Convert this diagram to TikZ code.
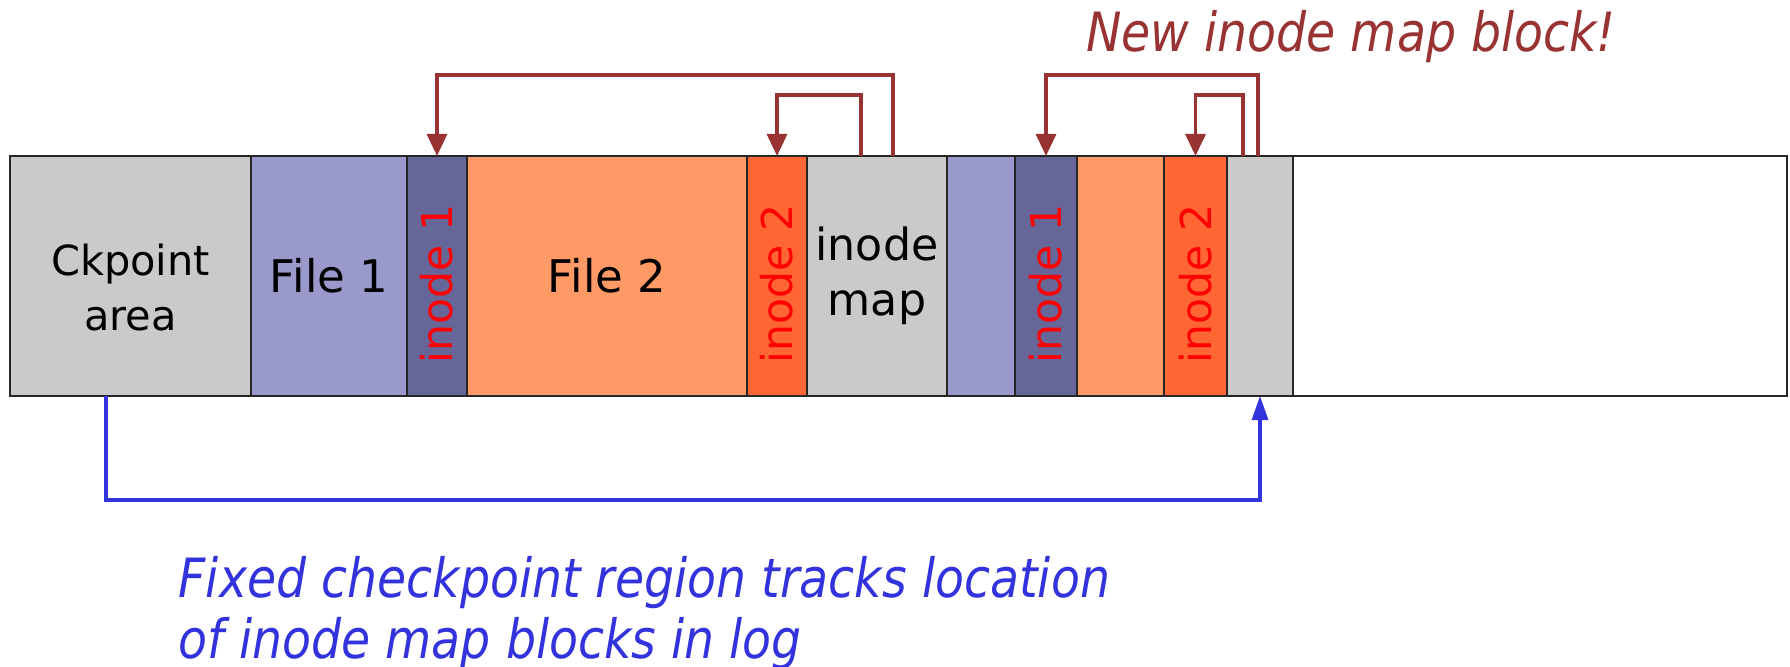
\documentclass[tikz,border=0pt]{standalone}
\usepackage{fontspec}
\usepackage{graphicx}
\setmainfont{DejaVu Sans}
\newfontfamily\notefont[FakeStretch=0.875]{DejaVu Sans}
\usetikzlibrary{arrows.meta,positioning}
\definecolor{ckgray}{HTML}{CACACA}
\definecolor{filelav}{HTML}{9999CC}
\definecolor{inodepur}{HTML}{666699}
\definecolor{fileorg}{HTML}{FF9966}
\definecolor{inodeorg}{HTML}{FF6633}
\definecolor{ptrred}{HTML}{993333}
\definecolor{trackblue}{HTML}{3333DD}
% rotated inode label, pushed a little down
\newcommand{\inolabel}[1]{\rotatebox{90}{#1\hspace*{0.16cm}}}

\begin{document}
\begin{tikzpicture}[x=1cm,y=1cm]
\tikzset{
  cell/.style={draw=black!85,line width=0.7pt,minimum height=2.40cm,inner sep=0pt,outer sep=0pt,align=center,font=\fontsize{12.6}{15.5}\selectfont},
  inocell/.style={cell,text=red,font=\fontsize{12.1}{14}\selectfont},
  ptr/.style={-{Triangle[length=2.2mm,width=2mm]},draw=ptrred,line width=0.9pt},
  track/.style={-{Triangle[length=2.4mm,width=1.6mm]},draw=trackblue,line width=0.9pt},
  note/.style={font=\notefont\itshape\fontsize{15.4}{17.3}\selectfont,align=left,inner sep=0pt}
}
\useasboundingbox (0,0) rectangle (17.90,-6.67);
\node[cell,fill=ckgray,minimum width=2.41cm,font=\fontsize{11.8}{15.6}\selectfont] (c_ckpt) at (1.305,-2.76) {\rule{0pt}{15.5pt}Ckpoint\\area};
\node[cell,fill=filelav,minimum width=1.56cm,font=\fontsize{12.8}{16}\selectfont] (c_file1) at (3.29,-2.76) {File 1};
\node[inocell,fill=inodepur,minimum width=0.60cm] (c_ino1) at (4.37,-2.76) {\inolabel{inode 1}};
\node[cell,fill=fileorg,minimum width=2.80cm,font=\fontsize{12.8}{16}\selectfont] (c_file2) at (6.07,-2.76) {File 2};
\node[inocell,fill=inodeorg,minimum width=0.60cm] (c_ino2) at (7.77,-2.76) {\inolabel{inode 2}};
\node[cell,fill=ckgray,minimum width=1.40cm] (c_imap) at (8.77,-2.76) {inode\\map};
\node[cell,fill=filelav,minimum width=0.68cm] (c_file1b) at (9.81,-2.76) {};
\node[inocell,fill=inodepur,minimum width=0.62cm] (c_ino1b) at (10.46,-2.76) {\inolabel{inode 1}};
\node[cell,fill=fileorg,minimum width=0.87cm] (c_file2b) at (11.205,-2.76) {};
\node[inocell,fill=inodeorg,minimum width=0.63cm] (c_ino2b) at (11.955,-2.76) {\inolabel{inode 2}};
\node[cell,fill=ckgray,minimum width=0.66cm] (c_imapb) at (12.60,-2.76) {};
\node[cell,fill=white,minimum width=4.94cm] (c_free) at (15.40,-2.76) {};
% old inode map points back to its inodes
\draw[ptr] ([xshift=1.6mm]c_imap.north) -- ++(0,0.81) -| (c_ino1.north);
\draw[ptr] ([xshift=-1.6mm]c_imap.north) -- ++(0,0.61) -| (c_ino2.north);
% new inode map block
\draw[ptr] ([xshift=-0.2mm]c_imapb.north) -- ++(0,0.81) -| (c_ino1b.north);
\draw[ptr] ([xshift=-1.7mm]c_imapb.north) -- ++(0,0.61) -| (c_ino2b.north);
\draw[track] ([xshift=-2.45mm]c_ckpt.south) -- ++(0,-1.04) -| (c_imapb.south);
\node[note,text=ptrred,anchor=base] (t_new) at (13.51,-0.52) {New inode map block!};
\node[note,text=trackblue,anchor=north west] (t_fixed) at (1.78,-5.56) {Fixed checkpoint region tracks location\\of inode map blocks in log};
\end{tikzpicture}
\end{document}
